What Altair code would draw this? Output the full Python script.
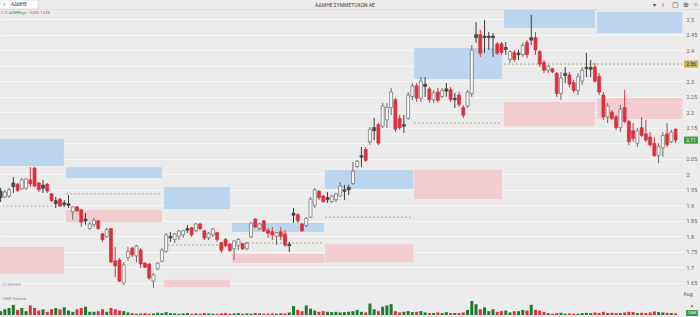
import altair as alt
import pandas as pd

# ---------------- data ----------------
opens = [1.946,1.927,1.930,1.972,1.968,1.953,1.955,1.982,2.020,1.972,
         1.965,1.968,1.937,1.915,1.920,1.908,1.905,1.879,1.895,1.885,
         1.856,1.825,1.838,1.850,1.808,1.800,1.825,1.721,1.724,1.650,
         1.732,1.762,1.737,1.756,1.714,1.711,1.656,1.695,1.720,1.752,
         1.800,1.790,1.800,1.805,1.825,1.828,1.818,1.840,1.818,1.795,
         1.805,1.812,1.780,1.790,1.775,1.760,1.770,1.776,1.760,1.798,
         1.856,1.825,1.850,1.820,1.815,1.800,1.815,1.808,1.775,1.875,
         1.870,1.840,1.835,1.862,1.900,1.945,1.930,1.925,1.912,1.918,
         1.930,1.950,1.958,1.970,2.025,2.060,2.080,2.105,2.150,2.160,
         2.155,2.175,2.215,2.240,2.180,2.160,2.180,2.250,2.285,2.245,
         2.290,2.275,2.240,2.265,2.250,2.275,2.272,2.245,2.255,2.215,
         2.220,2.260,2.450,2.450,2.445,2.445,2.445,2.420,2.420,2.408,
         2.370,2.392,2.390,2.385,2.425,2.440,2.440,2.395,2.360,2.335,
         2.340,2.325,2.260,2.325,2.320,2.295,2.270,2.300,2.345,2.345,
         2.345,2.315,2.255,2.185,2.200,2.185,2.150,2.215,2.170,2.140,
         2.100,2.150,2.130,2.120,2.100,2.060,2.085,2.130,2.105,2.145]
closes = [1.925,1.943,1.950,1.960,1.948,1.982,1.985,1.969,1.962,1.950,
          1.955,1.946,1.915,1.905,1.898,1.902,1.900,1.895,1.882,1.846,
          1.850,1.840,1.852,1.825,1.790,1.822,1.718,1.705,1.656,1.708,
          1.752,1.740,1.769,1.711,1.701,1.666,1.676,1.714,1.756,1.805,
          1.795,1.808,1.817,1.818,1.820,1.805,1.840,1.825,1.795,1.810,
          1.824,1.790,1.755,1.770,1.755,1.785,1.790,1.760,1.778,1.843,
          1.830,1.840,1.818,1.810,1.805,1.812,1.800,1.772,1.770,1.868,
          1.850,1.818,1.858,1.920,1.950,1.925,1.912,1.918,1.930,1.937,
          1.962,1.945,1.950,2.010,2.042,2.055,2.045,2.145,2.140,2.100,
          2.220,2.215,2.265,2.145,2.150,2.155,2.255,2.285,2.245,2.300,
          2.283,2.240,2.262,2.238,2.270,2.268,2.240,2.240,2.225,2.190,
          2.265,2.400,2.440,2.390,2.440,2.440,2.440,2.390,2.392,2.402,
          2.395,2.370,2.385,2.415,2.385,2.432,2.400,2.355,2.335,2.348,
          2.330,2.260,2.310,2.318,2.290,2.270,2.315,2.335,2.340,2.338,
          2.300,2.265,2.185,2.220,2.180,2.150,2.210,2.170,2.105,2.115,
          2.140,2.125,2.110,2.095,2.060,2.090,2.125,2.095,2.135,2.110]
highs = [1.956,1.949,1.956,1.991,1.972,1.988,1.988,2.023,2.023,1.975,
         1.982,1.972,1.940,1.927,1.924,1.917,1.933,1.897,1.898,1.888,
         1.875,1.846,1.859,1.853,1.811,1.827,1.827,1.766,1.730,1.717,
         1.766,1.766,1.772,1.762,1.717,1.714,1.682,1.717,1.762,1.811,
         1.814,1.811,1.821,1.821,1.837,1.830,1.843,1.843,1.821,1.814,
         1.827,1.814,1.782,1.795,1.779,1.788,1.795,1.779,1.782,1.846,
         1.859,1.843,1.853,1.827,1.830,1.814,1.830,1.821,1.782,1.891,
         1.875,1.843,1.862,1.927,1.956,1.949,1.933,1.943,1.933,1.940,
         1.975,1.966,1.966,2.040,2.046,2.088,2.088,2.152,2.181,2.165,
         2.230,2.230,2.278,2.246,2.191,2.191,2.265,2.294,2.294,2.313,
         2.313,2.281,2.271,2.278,2.278,2.294,2.281,2.262,2.265,2.223,
         2.271,2.416,2.490,2.465,2.497,2.458,2.455,2.426,2.426,2.426,
         2.400,2.400,2.400,2.423,2.432,2.513,2.458,2.400,2.368,2.352,
         2.342,2.329,2.329,2.345,2.329,2.304,2.326,2.345,2.391,2.368,
         2.358,2.326,2.265,2.230,2.207,2.191,2.223,2.271,2.175,2.165,
         2.149,2.184,2.175,2.136,2.120,2.101,2.136,2.165,2.143,2.149]
lows = [1.911,1.924,1.924,1.940,1.943,1.949,1.949,1.959,1.959,1.943,
        1.940,1.940,1.911,1.891,1.895,1.895,1.891,1.853,1.879,1.830,
        1.837,1.821,1.830,1.821,1.782,1.795,1.714,1.669,1.653,1.643,
        1.721,1.734,1.717,1.698,1.698,1.660,1.634,1.692,1.717,1.747,
        1.782,1.779,1.788,1.795,1.811,1.798,1.814,1.821,1.788,1.788,
        1.798,1.782,1.747,1.766,1.750,1.724,1.756,1.756,1.756,1.795,
        1.827,1.821,1.814,1.795,1.788,1.772,1.788,1.766,1.750,1.843,
        1.843,1.814,1.830,1.859,1.891,1.917,1.908,1.908,1.908,1.911,
        1.927,1.917,1.933,1.966,2.020,2.023,2.040,2.095,2.110,2.094,
        2.149,2.149,2.191,2.136,2.143,2.133,2.175,2.239,2.233,2.233,
        2.249,2.230,2.230,2.230,2.246,2.249,2.233,2.214,2.217,2.181,
        2.214,2.249,2.423,2.378,2.391,2.400,2.378,2.384,2.384,2.384,
        2.358,2.362,2.368,2.378,2.374,2.416,2.384,2.345,2.326,2.326,
        2.326,2.249,2.239,2.294,2.281,2.262,2.255,2.288,2.313,2.313,
        2.294,2.255,2.175,2.165,2.175,2.143,2.136,2.165,2.094,2.104,
        2.088,2.120,2.104,2.088,2.056,2.036,2.056,2.088,2.101,2.101]
# h = hollow (up), d = red (down), k = dark filled
kinds = ("k h h k d h h d d d k d d k d k k h d d k h h d d h d d d h "
         "h d h d d d h h h h k h h h k d h d d h h d d d d h h d h h "
         "d h d d d h d d k k d d h h h d d k h h h k k h h k d h k d "
         "h h h d d k h h d h k d h d h k d k d d h h k d k k k d d k "
         "h d k h d k d d d h d d h k d d h h k k d d d h d d h d d d "
         "h d d d d h h d h d").split()
volumes = [60, 90, 110, 160, 80, 110, 60, 150, 110, 70, 90, 50, 90, 110, 90, 120,
           70, 50, 90, 110, 130, 50, 50, 60, 90, 50, 110, 90, 70, 60, 40,
           30, 20, 25, 30, 20, 25, 35, 30, 45, 30, 25, 20, 25, 30, 20, 25, 20, 30,
           25, 20, 20, 25, 30, 20, 25, 30, 20, 25, 20, 30, 25, 20, 20, 25, 20, 30,
           25, 40,
           140, 80, 60, 150, 100, 70, 50, 60, 50, 45, 50, 40, 45, 50, 60, 80, 50,
           40, 180, 90, 60, 130, 150, 170, 60, 40, 50, 60, 45, 50, 60, 40, 30, 30,
           40, 30, 45, 30, 30, 30, 40, 80, 220, 170, 90, 120, 60, 90, 50, 60, 70,
           40, 60, 60, 80, 70, 160, 80, 70, 50, 30, 20, 30, 35, 20, 25, 20, 20, 30,
           35, 30, 40, 30, 50, 30, 35, 30, 30, 40, 50, 45, 30, 35, 30, 40, 55, 45,
           40, 35, 30, 25]

tick_idx = [10, 19, 29, 39, 46, 55, 64, 74, 83, 93, 103, 112, 123, 132, 142, 152]
tick_labels = ["21", "Jan 4", "18", "Feb", "15", "Mar", "15", "29", "Apr 12", "26",
               "May 10", "24", "Jun 7", "21", "Jul 5", "19"]
next_label = "Aug"
price_ticks = [1.65, 1.7, 1.75, 1.8, 1.85, 1.9, 1.95, 2.0, 2.05, 2.1, 2.15,
               2.2, 2.25, 2.3, 2.35, 2.4, 2.45, 2.5]
covered_ticks = [2.1, 2.35]   # tick labels hidden under the two price badges

zone_start = [-0.5, 15.4, 38.5, 54.5, 76.4, 97.4, 118.6, 140.5]
zone_end = [14.9, 38.0, 54.0, 76.2, 97.2, 118.1, 140.0, 160.6]
blue_hi = [2.114, 2.023, 1.959, 1.843, 2.014, 2.407, 2.532, 2.523]
blue_lo = [2.027, 1.988, 1.888, 1.814, 1.953, 2.307, 2.471, 2.455]
red_hi = [1.766, 1.885, 1.660, 1.743, 1.775, 2.014, 2.233, 2.246]
red_lo = [1.679, 1.846, 1.624, 1.714, 1.717, 1.920, 2.155, 2.178]
pivot = [1.898, 1.937, 1.772, 1.779, 1.862, 2.165, 2.355, 2.355]

last_price = 2.11
last_pivot = 2.355
badge_texts = ["2.36", "2.11"]
title = "ΑΔΜΗΕ ΣΥΜΜΕΤΟΧΩΝ ΑΕ"
symbol = "ΑΔΜΗΕ"
quote_left = "2.11 ΑΔΜΗΕ(gr)"
quote_right = "-0.035 -1.63%"
volume_label = "136K Volume"

# ---------------- frames ----------------
n = len(opens)
df = pd.DataFrame({"i": list(range(n)), "open": opens, "close": closes,
                   "high": highs, "low": lows, "kind": kinds, "vol": volumes})
zones = pd.DataFrame({"s": zone_start, "e": zone_end, "bh": blue_hi, "bl": blue_lo,
                      "rh": red_hi, "rl": red_lo, "pv": pivot})

FONT = "Roboto"
xs = alt.Scale(domain=[-0.14, 160.75], nice=False, zero=False, padding=0)
ys = alt.Scale(domain=[1.637, 2.529], nice=False, zero=False, padding=0)
vs = alt.Scale(domain=[0, 220], range=[305, 291], nice=False, padding=0)

label_expr = ("[" + ",".join("'%s'" % t for t in tick_labels) + "][indexof(["
              + ",".join(str(v) for v in tick_idx) + "], datum.value)]")
hidden = ",".join(str(v) for v in covered_ticks)
ylabel_expr = ("indexof([%s], round(datum.value*100)/100) >= 0 ? '' : "
               "format(datum.value, '.2~f')") % hidden

X = lambda f: alt.X(f, type="quantitative", scale=xs, title=None,
                    axis=alt.Axis(values=tick_idx, labelExpr=label_expr, grid=True,
                                  gridColor="#f7f7f7", gridWidth=1, ticks=False,
                                  domain=False, labelFont=FONT, labelFontSize=5.5,
                                  labelColor="#666", labelPadding=4))
Y = lambda f: alt.Y(f, type="quantitative", scale=ys, title=None,
                    axis=alt.Axis(orient="right", values=price_ticks,
                                  labelExpr=ylabel_expr,
                                  grid=True, gridColor="#f7f7f7", gridWidth=1,
                                  ticks=False, domain=False, labelFont=FONT,
                                  labelFontSize=5.5, labelColor="#666",
                                  labelPadding=3))
Yn = lambda f: alt.Y(f, type="quantitative", scale=ys, axis=None)
Xn = lambda f: alt.X(f, type="quantitative", scale=xs, axis=None)

base_z = alt.Chart(zones)
blue = base_z.mark_rect(color="#bcd5ef", clip=True).encode(
    x=X("s"), x2="e", y=Y("bl"), y2="bh")
red = base_z.mark_rect(color="#f3ccd0", clip=True).encode(
    x=Xn("s"), x2="e", y=Yn("rl"), y2="rh")
piv = base_z.mark_rule(color="#a89b5c", strokeDash=[2, 2], strokeWidth=0.8,
                       clip=True).encode(x=Xn("s"), x2="e", y=Yn("pv"))

base = alt.Chart(df)
styles = {
    "h": dict(fill="#f8f8f8", stroke="#6b6b6b", wick="#6b6b6b"),
    "d": dict(fill="#d9323d", stroke="#d9323d", wick="#d9323d"),
    "k": dict(fill="#4d4d4d", stroke="#3d3d3d", wick="#3d3d3d"),
}
candle_layers = []
for k, st in styles.items():
    sub = base.transform_filter(alt.datum.kind == k)
    wick = sub.mark_rule(color=st["wick"], strokeWidth=1).encode(
        x=Xn("i"), y=Yn("low"), y2="high")
    body = sub.mark_bar(size=3, fill=st["fill"], stroke=st["stroke"],
                        strokeWidth=0.7).encode(x=Xn("i"), y=Yn("open"), y2="close")
    candle_layers += [wick, body]

vol = base.transform_calculate(
    vcol="datum.kind == 'd' ? 'down' : 'up'"
).mark_bar(size=3).encode(
    x=Xn("i"),
    y=alt.Y("vol:Q", scale=vs, axis=None),
    y2=alt.value(305),
    color=alt.Color("vcol:N", scale=alt.Scale(domain=["up", "down"],
                    range=["#1f7a2e", "#d9323d"]), legend=None),
)

# badges on the right axis
badges = pd.DataFrame({"p": [last_pivot, last_price], "t": badge_texts,
                       "c": ["#c9b458", "#3f9b4a"], "tc": ["#333", "#fff"]})
bb = alt.Chart(badges).transform_calculate(
    top="datum.p + 0.0115", bot="datum.p - 0.0115")
badge_rect = bb.mark_rect().encode(
    x=alt.value(684), x2=alt.value(698),
    y=Yn("top"), y2="bot",
    color=alt.Color("c:N", scale=None))
badge_text = bb.mark_text(font=FONT, fontSize=5, align="center",
                          baseline="middle").encode(
    x=alt.value(691), y=Yn("p"), text="t:N",
    color=alt.Color("tc:N", scale=None))

# static texts
one = pd.DataFrame({"a": [0]})
def txt(s, x, y, size=5.5, color="#555", align="left", weight="normal"):
    return alt.Chart(one).mark_text(text=s, font=FONT, fontSize=size, color=color,
                                    align=align, baseline="middle",
                                    fontWeight=weight).encode(
        x=alt.value(x), y=alt.value(y))

sym_box = alt.Chart(one).mark_rect(fill="white", stroke="#cfcfcf",
                                   strokeWidth=0.6).encode(
    x=alt.value(0), x2=alt.value(38), y=alt.value(-10), y2=alt.value(-1))
header_line = alt.Chart(one).mark_rule(color="#d9d9d9", strokeWidth=0.8).encode(
    x=alt.value(0), x2=alt.value(700), y=alt.value(-0.5))

vol_badge = alt.Chart(one).mark_rect(fill="#3f9b4a").encode(
    x=alt.value(686), x2=alt.value(698), y=alt.value(300), y2=alt.value(306))

texts = [
    txt(title, 345, -5, size=5, color="#444", align="center"),
    txt("‹", 3, -5.5, size=8, color="#555"),
    txt(symbol, 11, -5, size=4.5, color="#333"),
    txt(quote_left, 1, 3, size=3.5, color="#2f8a3c"),
    txt(quote_right, 29, 3, size=3.5, color="#d9323d"),
    txt("▾", 653, -5, size=6, color="#444"),
    txt("‖", 662, -5, size=6, color="#444"),
    txt("▢", 672, -5, size=7, color="#444"),
    txt("⊕", 683, -5, size=7, color="#444"),
    txt("≡", 694, -5, size=7, color="#444"),
    txt("CT MFKKK", 2, 275, size=4, color="#999"),
    txt(volume_label, 2, 289, size=4, color="#777"),
    txt(next_label, 688, 284, size=5.5, color="#666", align="center"),
    txt("▲", 690, 296, size=4, color="#555"),
    txt("136K", 692, 303, size=4, color="#fff", align="center"),
]

chart = alt.layer(
    blue, red, piv, *candle_layers, vol, badge_rect, badge_text,
    sym_box, header_line, vol_badge, *texts
).resolve_scale(y="independent", color="independent").properties(
    width=683, height=277,
    padding={"left": 0, "top": 10, "right": 17, "bottom": 30},
    autosize=alt.AutoSizeParams(type="none"),
).configure(background="#ececec").configure_view(stroke=None, fill="#ebebeb")

chart.save("out.html", embed_options={"renderer": "svg", "actions": False})
